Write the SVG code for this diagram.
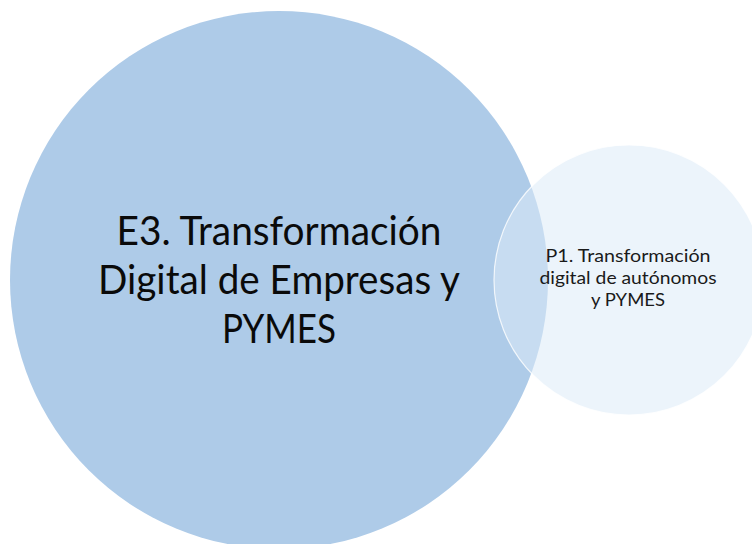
<svg xmlns="http://www.w3.org/2000/svg" width="752" height="544" viewBox="0 0 752 544">
  <style>
    .big { font-family: Lato, "Open Sans", sans-serif; font-size: 40px; fill: #0a0a0a; text-anchor: middle; }
    .small { font-family: Lato, "Open Sans", sans-serif; font-size: 17px; fill: #1a1a1a; text-anchor: middle; }
  </style>
  <rect width="752" height="544" fill="#ffffff"/>
  <g id="E3">
    <circle cx="279" cy="280" r="269" fill="#AECBE8"/>
    <text class="big" x="279" y="245" textLength="325" lengthAdjust="spacingAndGlyphs">E3. Transformación</text>
    <text class="big" x="279" y="294" textLength="362" lengthAdjust="spacingAndGlyphs">Digital de Empresas y</text>
    <text class="big" x="279" y="343" textLength="114" lengthAdjust="spacingAndGlyphs">PYMES</text>
  </g>
  <g id="P1">
    <circle cx="629" cy="280" r="135" fill="#DDEBF7" fill-opacity="0.55" stroke="#ffffff" stroke-width="1.2" stroke-opacity="0.8"/>
    <text class="small" x="628" y="262" textLength="165" lengthAdjust="spacingAndGlyphs">P1. Transformación</text>
    <text class="small" x="628" y="284" textLength="177" lengthAdjust="spacingAndGlyphs">digital de autónomos</text>
    <text class="small" x="628" y="306" textLength="74" lengthAdjust="spacingAndGlyphs">y PYMES</text>
  </g>
  <g id="connectors"></g>
</svg>
